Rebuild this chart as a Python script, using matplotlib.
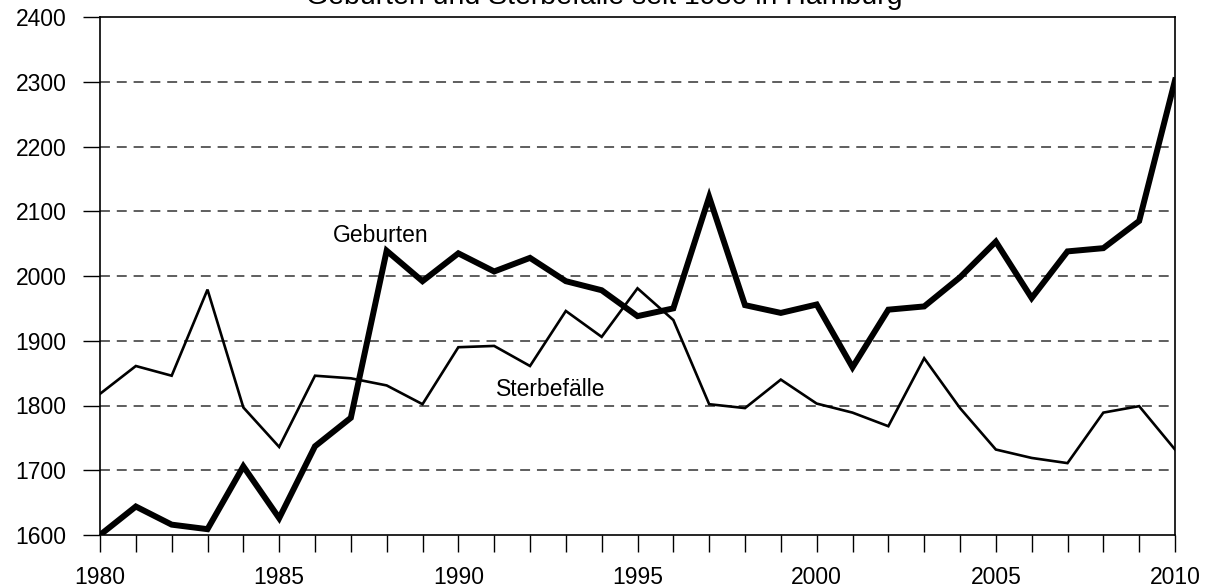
import matplotlib
matplotlib.use("Agg")
import matplotlib.pyplot as plt

plt.rcParams['font.family'] = ['Liberation Sans', 'DejaVu Sans']

title = "Geburten und Sterbefälle seit 1980 in Hamburg"
years = list(range(1980, 2011))
geburten = [1600, 1644, 1616, 1609, 1706, 1626, 1737, 1781, 2039, 1992,
            2035, 2007, 2028, 1992, 1978, 1938, 1950, 2122, 1955, 1943,
            1956, 1859, 1948, 1953, 1998, 2053, 1966, 2038, 2043, 2085, 2302]
sterbefaelle = [1818, 1861, 1846, 1979, 1797, 1736, 1846, 1842, 1831, 1802,
                1890, 1892, 1861, 1946, 1906, 1981, 1932, 1802, 1796, 1840,
                1803, 1789, 1768, 1873, 1796, 1732, 1719, 1711, 1789, 1799, 1732]
y_ticks = [1600, 1700, 1800, 1900, 2000, 2100, 2200, 2300, 2400]
x_labels = [1980, 1985, 1990, 1995, 2000, 2005, 2010]

fig = plt.figure(figsize=(12.09, 5.88), dpi=100)
ax = fig.add_axes([100/1209, 1-535/588, 1075/1209, 518/588])

ax.plot(years, sterbefaelle, color='black', lw=1.9, solid_joinstyle='miter', zorder=3)
ax.plot(years, geburten, color='black', lw=4.3, solid_joinstyle='miter', zorder=4)

ax.set_xlim(1980, 2010)
ax.set_ylim(1600, 2400)
ax.set_yticks(y_ticks)
ax.set_xticks(years)
ax.set_xticklabels([str(y) if y in x_labels else '' for y in years])

for y in y_ticks[1:-1]:
    ax.axhline(y, color='#333333', lw=1.1, dashes=(6.5, 4.5), zorder=1)

for s in ax.spines.values():
    s.set_linewidth(1.2)
ax.tick_params(axis='x', direction='out', length=12.2, width=1.0, pad=10, labelsize=16.5)
ax.tick_params(axis='y', direction='out', length=12.2, width=1.0, pad=12, labelsize=16.5)

ax.text(1986.5, 2062, "Geburten", fontsize=16.5, va='center', ha='left')
ax.text(1991.05, 1824, "Sterbefälle", fontsize=16.5, va='center', ha='left')

fig.text(0.5, 1 - 4.5/588, title, fontsize=20.5, ha='center', va='baseline')

fig.savefig("out.png", dpi=100)
